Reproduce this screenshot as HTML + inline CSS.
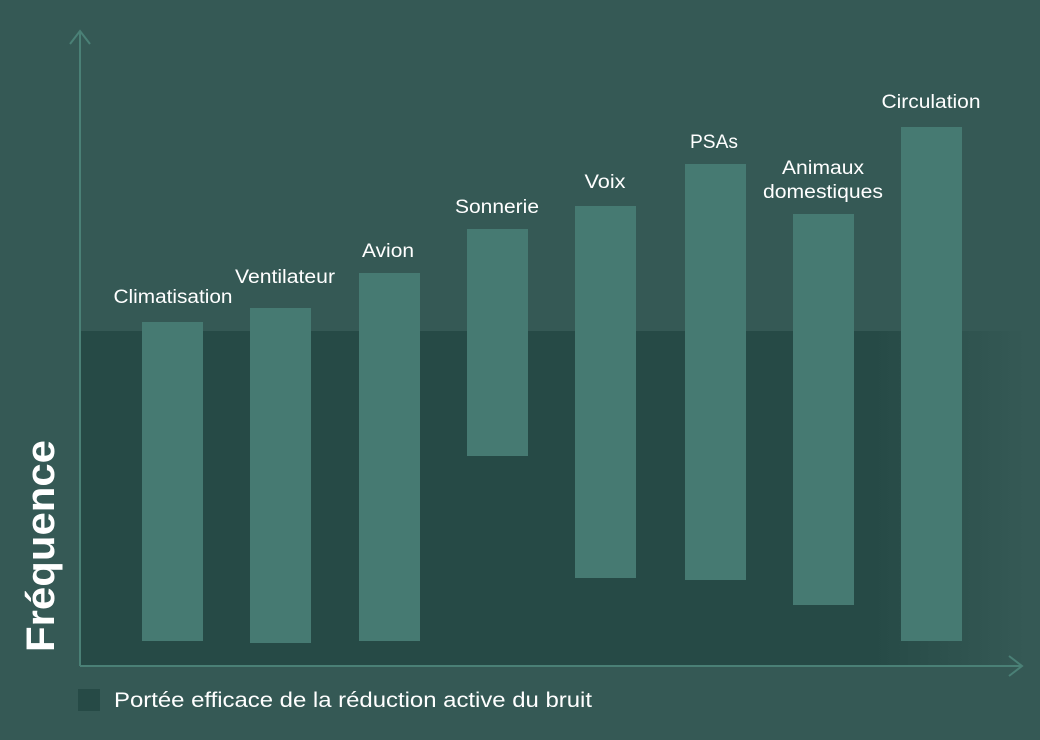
<!DOCTYPE html>
<html><head><meta charset="utf-8"><style>
body{margin:0;background:#355955;}
</style></head><body>
<svg width="1040" height="740" xmlns="http://www.w3.org/2000/svg" style="display:block">
<defs><linearGradient id="g" x1="0" x2="1" y1="0" y2="0">
<stop offset="0" stop-color="#264a46"/><stop offset="0.84" stop-color="#264a46"/><stop offset="1" stop-color="#355955"/></linearGradient></defs>
<rect width="1040" height="740" fill="#355955"/>
<rect x="80" y="331" width="945" height="335" fill="url(#g)"/>
<g fill="#467a72">
<rect x="142" y="322" width="61" height="319"/>
<rect x="250" y="308" width="61" height="335"/>
<rect x="359" y="273" width="61" height="368"/>
<rect x="467" y="229" width="61" height="227"/>
<rect x="575" y="206" width="61" height="372"/>
<rect x="685" y="164" width="61" height="416"/>
<rect x="793" y="214" width="61" height="391"/>
<rect x="901" y="127" width="61" height="514"/>
</g>
<g stroke="#4a8076" stroke-width="2" fill="none">
<line x1="80" y1="32" x2="80" y2="666"/>
<polyline points="70,44 80,31 90,44"/>
<line x1="80" y1="666" x2="1022" y2="666"/>
<polyline points="1009,656 1022,666 1009,676"/>
</g>
<g fill="#fff" font-family="Liberation Sans, sans-serif" font-size="19" text-anchor="middle" lengthAdjust="spacingAndGlyphs">
<text x="173" y="303" textLength="119" lengthAdjust="spacingAndGlyphs">Climatisation</text>
<text x="285" y="283" textLength="100" lengthAdjust="spacingAndGlyphs">Ventilateur</text>
<text x="388" y="257" textLength="52" lengthAdjust="spacingAndGlyphs">Avion</text>
<text x="497" y="213" textLength="84" lengthAdjust="spacingAndGlyphs">Sonnerie</text>
<text x="605" y="188" textLength="41" lengthAdjust="spacingAndGlyphs">Voix</text>
<text x="714" y="148" textLength="48" lengthAdjust="spacingAndGlyphs">PSAs</text>
<text x="823" y="174" textLength="82" lengthAdjust="spacingAndGlyphs">Animaux</text>
<text x="823" y="198" textLength="120" lengthAdjust="spacingAndGlyphs">domestiques</text>
<text x="931" y="108" textLength="99" lengthAdjust="spacingAndGlyphs">Circulation</text>
<text x="0" y="0" font-size="40" font-weight="bold" textLength="212" lengthAdjust="spacingAndGlyphs" transform="translate(54,546) rotate(-90)">Fréquence</text>
</g>
<rect x="78" y="689" width="22" height="22" fill="#264a46"/>
<text x="114" y="707" fill="#fff" font-family="Liberation Sans, sans-serif" font-size="21" textLength="478" lengthAdjust="spacingAndGlyphs">Portée efficace de la réduction active du bruit</text>
</svg>
</body></html>
